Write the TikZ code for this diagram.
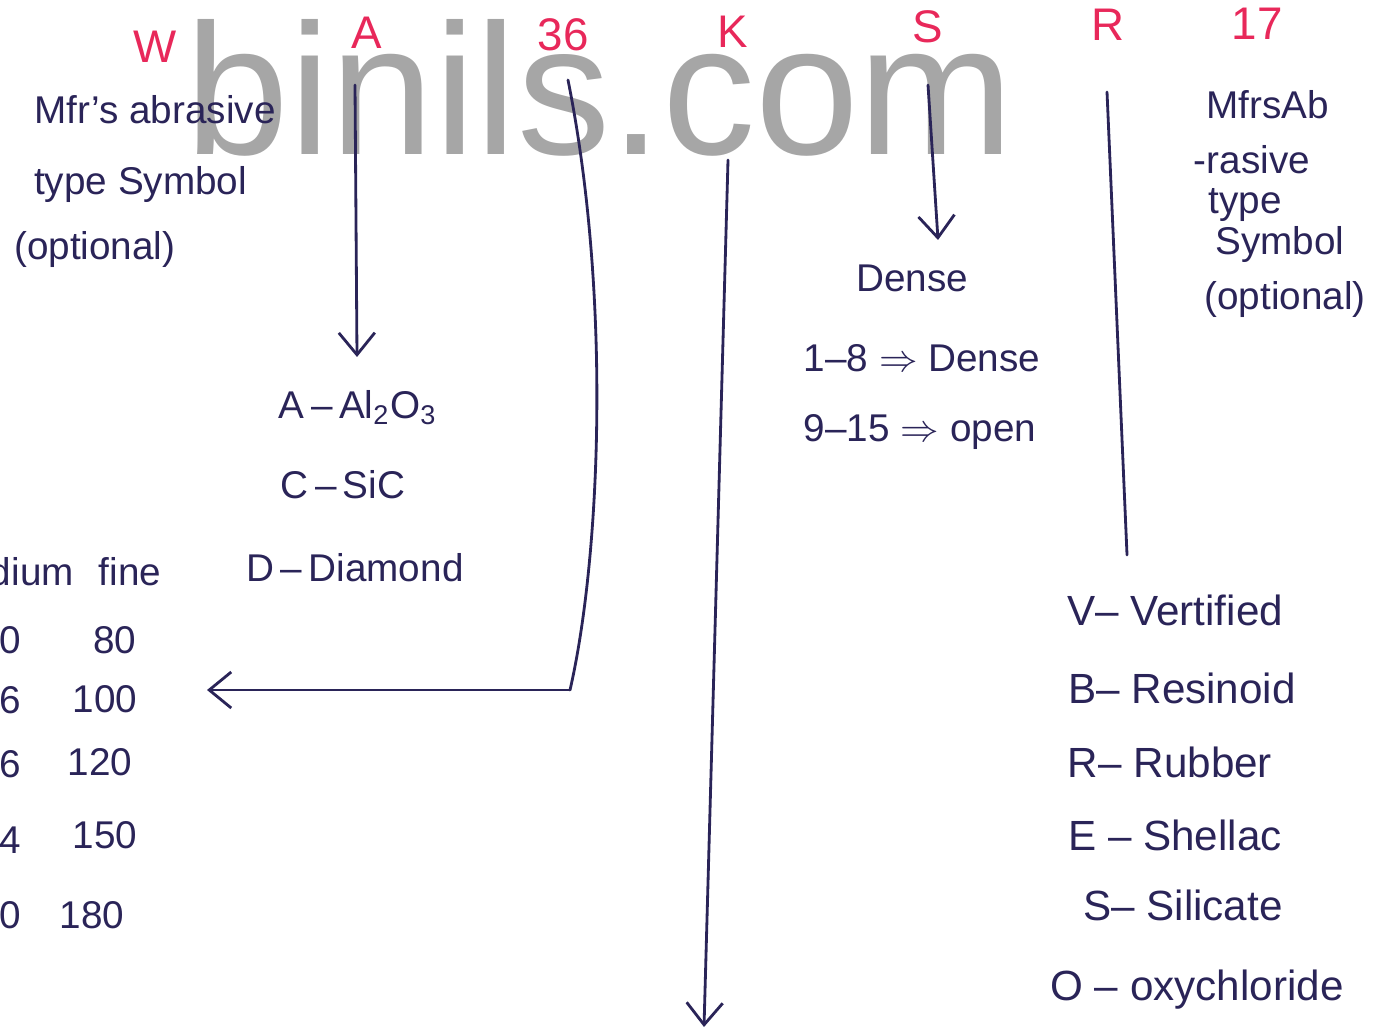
\documentclass[tikz,border=0pt]{standalone}
\usepackage{fontspec}
\setmainfont{Liberation Sans}
\usepackage{amsmath}
\usetikzlibrary{arrows.meta}
\definecolor{ink}{HTML}{2A2458}
\definecolor{redink}{HTML}{E8285A}

\begin{document}
\begin{tikzpicture}[x=0.01cm, y=-0.01cm,
    codechar/.style={text=redink, font=\fontsize{13}{15}\selectfont, inner sep=1pt},
    inknote/.style={text=ink, font=\fontsize{11}{13}\selectfont, inner sep=1pt},
    bondnote/.style={inknote, font=\fontsize{12}{14}\selectfont},
    lead/.style={draw=ink, line width=0.8pt, line cap=round},
    leadtip/.style={-{Straight Barb[length=2.2mm,width=3.6mm]}}]
    \useasboundingbox (0,0) rectangle (1386,1031);
    \clip (0,0) rectangle (1386,1031);

    % watermark
    \node[anchor=base west, inner sep=0, text=black!35, font=\fontsize{53}{60}\selectfont] (wm) at (185,155) {binils.com};

    % the code letters
    \node[codechar] (w) at (155,47) {W};
    \node[codechar] (a) at (367,33) {A};
    \node[codechar] (g) at (563,35) {36};
    \node[codechar] (k) at (733,32) {K};
    \node[codechar] (s) at (928,27) {S};
    \node[codechar] (r) at (1108,25) {R};
    \node[codechar] (n) at (1257,24) {17};

    % W : prefix
    \node[inknote, anchor=west] (w1) at (30,110) {Mfr's abrasive};
    \node[inknote, anchor=west] (w2) at (30,185) {type Symbol};
    \node[inknote, anchor=west] (w3) at (10,250) {(optional)};

    % A : abrasive type
    \coordinate (a top) at (355,85);
    \coordinate (a end) at (357,357);
    \draw[lead, leadtip] (a top) -- (a end);
    \node[inknote] (alu) at (358,408) {A\,--\,Al\textsubscript{2}O\textsubscript{3}};
    \node[inknote] (sic) at (343,485) {C\,--\,SiC};
    \node[inknote] (dia) at (355,568) {D\,--\,Diamond};

    % 36 : grain size
    \coordinate (g top) at (568,80);
    \coordinate (g corner) at (570,690);
    \coordinate (g end) at (207,690);
    \draw[lead] (g top) .. controls (612,300) and (600,560) .. (g corner);
    \draw[lead, leadtip] (g corner) -- (g end);

    \node[inknote, anchor=east] (med) at (78,572) {Medium};
    \node[inknote] (fine) at (130,572) {fine};
    \foreach \m/\y [count=\i] in {30/640, 36/700, 46/764, 54/840, 60/915} {
        \node[inknote, anchor=east] (m\i) at (25,\y) {\m};
    }
    \node[inknote] (f1) at (115,640) {80};
    \node[inknote] (f2) at (105,699) {100};
    \node[inknote] (f3) at (100,762) {120};
    \node[inknote] (f4) at (105,835) {150};
    \node[inknote] (f5) at (92,915) {180};

    % K : grade
    \coordinate (k top) at (728,160);
    \coordinate (k end) at (704,1027);
    \draw[lead, leadtip] (k top) -- (k end);

    % S : structure
    \coordinate (s top) at (928,85);
    \coordinate (s end) at (938,240);
    \draw[lead, leadtip] (s top) -- (s end);
    \node[inknote] (dense) at (912,278) {Dense};
    \node[inknote] (s1) at (922,358) {1--8 $\Rightarrow$ Dense};
    \node[inknote] (s2) at (920,432) {9--15 $\Rightarrow$ open};

    % R : bond
    \coordinate (r top) at (1107,92);
    \coordinate (r end) at (1127,555);
    \draw[lead] (r top) -- (r end);
    \node[bondnote] (b1) at (1175,610) {V-- Vertified};
    \node[bondnote] (b2) at (1182,688) {B-- Resinoid};
    \node[bondnote] (b3) at (1170,762) {R-- Rubber};
    \node[bondnote] (b4) at (1175,835) {E -- Shellac};
    \node[bondnote] (b5) at (1183,905) {S-- Silicate};
    \node[bondnote] (b6) at (1197,990) {O -- oxychloride};

    % 17 : suffix
    \node[inknote] (n1) at (1268,105) {MfrsAb};
    \node[inknote] (n2) at (1252,160) {-rasive};
    \node[inknote] (n3) at (1245,205) {type};
    \node[inknote] (n4) at (1280,245) {Symbol};
    \node[inknote] (n5) at (1285,300) {(optional)};
\end{tikzpicture}
\end{document}
